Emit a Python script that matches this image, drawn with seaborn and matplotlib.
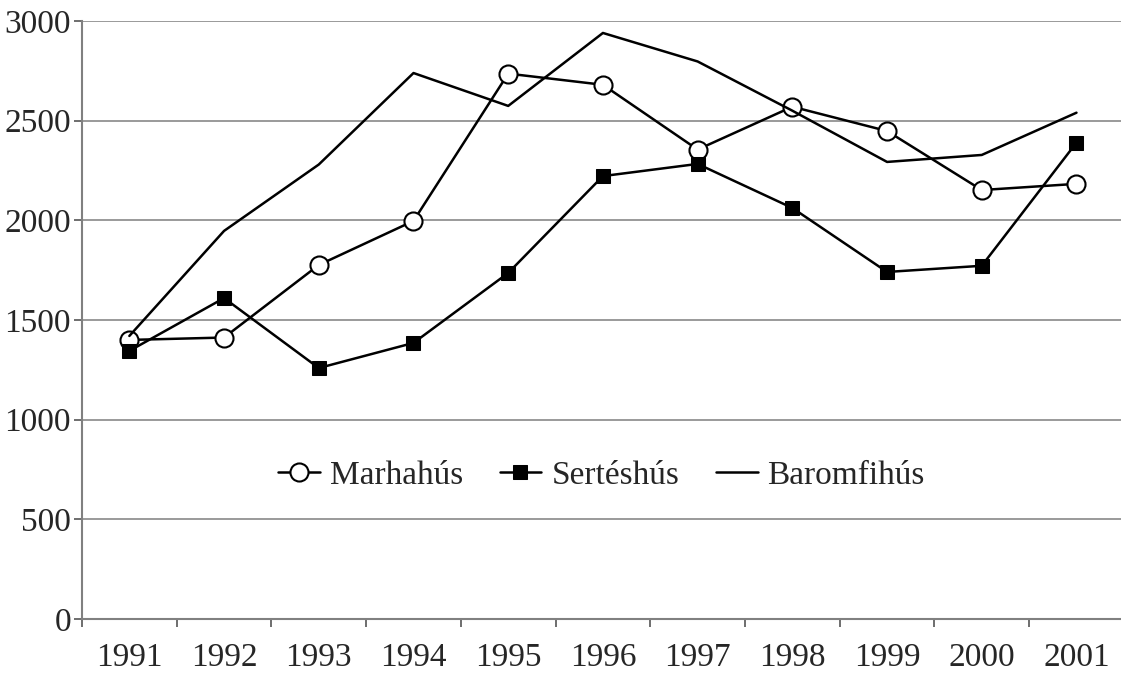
import pandas as pd
import matplotlib.pyplot as plt
import seaborn as sns
from matplotlib.ticker import FixedLocator

# adatok (leolvasva)
years = ["1991", "1992", "1993", "1994", "1995", "1996", "1997", "1998", "1999", "2000", "2001"]
marha = [1400, 1412, 1776, 1997, 2736, 2680, 2355, 2570, 2448, 2152, 2183]
sertes = [1345, 1610, 1259, 1385, 1736, 2222, 2283, 2062, 1741, 1772, 2390]
baromfi = [1420, 1947, 2280, 2739, 2574, 2940, 2797, 2550, 2293, 2328, 2540]

sns.set_style("white")
plt.rcParams['font.family'] = ['Liberation Serif', 'DejaVu Serif']

fig = plt.figure(figsize=(11.21, 6.75), dpi=100)
ax = fig.add_axes([82 / 1121, 56 / 675, 1039 / 1121, 598 / 675])

x = list(range(len(years)))
df = pd.DataFrame({"x": x, "Marhahús": marha, "Sertéshús": sertes, "Baromfihús": baromfi})

sns.lineplot(data=df, x="x", y="Marhahús", ax=ax, color="black", lw=1.8,
             marker="o", markersize=13, markerfacecolor="white",
             markeredgecolor="black", markeredgewidth=1.5, label="Marhahús", zorder=3)
sns.lineplot(data=df, x="x", y="Sertéshús", ax=ax, color="black", lw=1.8,
             marker="s", markersize=10, markerfacecolor="black",
             markeredgecolor="black", label="Sertéshús", zorder=3)
sns.lineplot(data=df, x="x", y="Baromfihús", ax=ax, color="black", lw=1.8,
             label="Baromfihús", zorder=3)

ax.set_xlim(-0.5, 10.47)
ax.set_ylim(0, 3000)
ax.set_yticks(range(0, 3001, 500))
ax.set_xticks(x)
ax.set_xticklabels(years)
ax.xaxis.set_minor_locator(FixedLocator([i - 0.5 for i in range(len(years) + 1)]))
ax.set_xlabel("")
ax.set_ylabel("")

ax.yaxis.grid(True, color="#9a9a9a", lw=1.4)
ax.set_axisbelow(True)
for s in ["top", "right"]:
    ax.spines[s].set_visible(False)
for s in ["left", "bottom"]:
    ax.spines[s].set_color("#808080")
    ax.spines[s].set_linewidth(1.5)

ax.tick_params(axis="x", which="major", bottom=False, length=0, labelsize=24, pad=17)
ax.tick_params(axis="x", which="minor", bottom=True, length=6, width=1.2,
               color="#555555", direction="out")
ax.tick_params(axis="y", left=True, length=6, width=1.2, color="#555555",
               labelsize=24, pad=2, direction="out")

ax.legend(loc="center", bbox_to_anchor=(0.5, 0.24), ncol=3, frameon=False,
          fontsize=24, handlelength=1.25, handletextpad=0.3, columnspacing=1.1)

plt.savefig("out.png", dpi=100)
plt.close()
